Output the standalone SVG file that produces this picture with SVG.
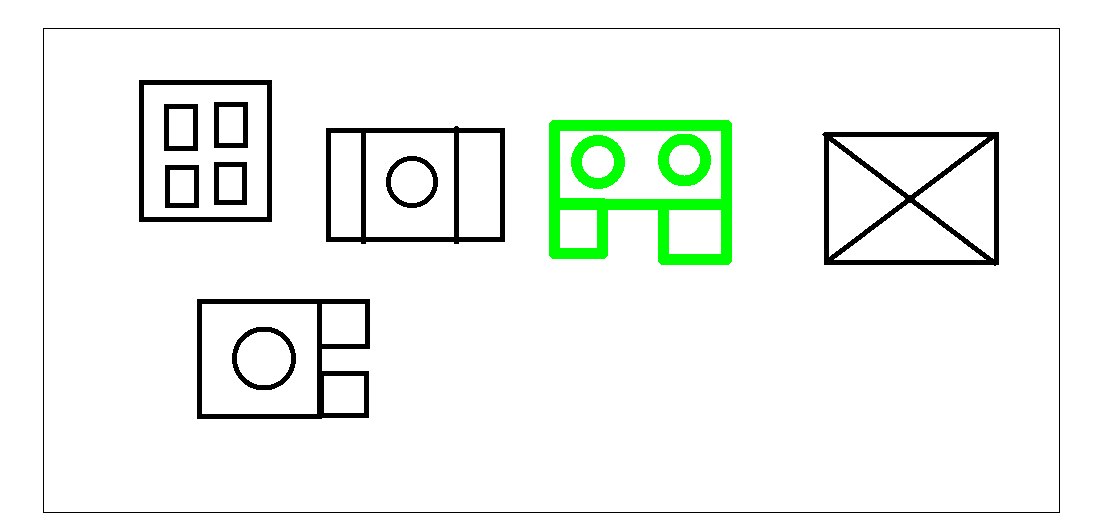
<svg xmlns="http://www.w3.org/2000/svg" width="1105" height="529" viewBox="0 0 1105 529">
  <style>
    .k { fill: none; stroke: #000; stroke-width: 5; shape-rendering: crispEdges; }
    .l { stroke-linecap: round; }
    .g { fill: none; stroke: #0f0; stroke-width: 11; stroke-linejoin: round; shape-rendering: crispEdges; }
  </style>
  <rect width="1105" height="529" fill="#fff"/>
  <rect id="frame" x="43.5" y="28.5" width="1016" height="484" fill="none" stroke="#000" stroke-width="1" shape-rendering="crispEdges"/>
  <g id="shape-windows">
    <rect class="k" x="141.5" y="82.5" width="128" height="137"/>
    <rect class="k" x="166.5" y="106.5" width="29" height="42"/>
    <rect class="k" x="216.5" y="104.5" width="29" height="41"/>
    <rect class="k" x="167.5" y="167.5" width="29" height="38"/>
    <rect class="k" x="216.5" y="164.5" width="28" height="38"/>
  </g>
  <g id="shape-bands">
    <rect class="k" x="328.5" y="130.5" width="174" height="109"/>
    <line class="k l" x1="363.5" y1="130.5" x2="363.5" y2="242"/>
    <line class="k l" x1="456.5" y1="128.5" x2="456.5" y2="242"/>
    <circle class="k" cx="412" cy="182" r="23.5"/>
  </g>
  <g id="shape-green">
    <rect class="g" x="554.5" y="125.5" width="172" height="79"/>
    <path class="g" d="M554.5 203.5V253.5H602.5V203.5Z"/>
    <path class="g" d="M663.5 205V259.5H726.5V205"/>
    <circle class="g" cx="598" cy="162" r="21.5"/>
    <circle class="g" cx="684.5" cy="160" r="21"/>
  </g>
  <g id="shape-lower">
    <rect class="k" x="199.5" y="301.5" width="120" height="115"/>
    <path class="k" d="M319.5 301.5H367.5V346.5H319.5"/>
    <path class="k" d="M321.5 415.5V373.5H366.5V415.5H319.5"/>
    <circle class="k" cx="264" cy="358.5" r="29.5"/>
  </g>
  <g id="shape-cross">
    <rect class="k" x="826.5" y="134.5" width="170" height="128"/>
    <line class="k l" x1="825" y1="134.5" x2="995" y2="263.5"/>
    <line class="k" x1="826" y1="262.5" x2="996" y2="134"/>
  </g>
</svg>
